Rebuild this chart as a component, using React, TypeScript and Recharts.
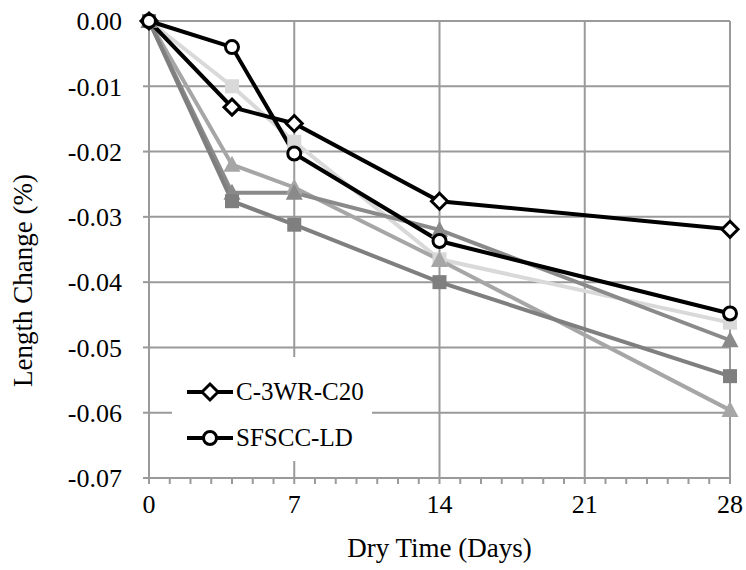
import { LineChart, Line, XAxis, YAxis, CartesianGrid, ReferenceLine, Legend } from 'recharts'

// dry time in days
const days = [0, 4, 7, 14, 28]

// length change (%) per mix
const c3wrC20 = [0, -0.0132, -0.0157, -0.0276, -0.0319]
const sfsccLd = [0, -0.004, -0.0203, -0.0337, -0.0448]
const lightSquare = [0, -0.01, -0.0185, -0.0365, -0.0462]
const lightTriangle = [0, -0.022, -0.0255, -0.0366, -0.0596]
const darkTriangle = [0, -0.0263, -0.0263, -0.032, -0.0489]
const darkSquare = [0, -0.0276, -0.0312, -0.04, -0.0544]

const yTicks = [0, -0.01, -0.02, -0.03, -0.04, -0.05, -0.06, -0.07]
const xTicks = [0, 1, 2, 3, 4, 5, 6, 7, 8, 9, 10, 11, 12, 13, 14, 15, 16, 17, 18, 19, 20, 21, 22, 23, 24, 25, 26, 27, 28]
const majorDays = [7, 14, 21, 28]

const data = days.map((d, i) => ({
  day: d,
  c3wr: c3wrC20[i],
  sfscc: sfsccLd[i],
  lsq: lightSquare[i],
  ltri: lightTriangle[i],
  dtri: darkTriangle[i],
  dsq: darkSquare[i],
}))

const FONT = '"Liberation Serif", "Times New Roman", serif'
const GRID = '#9a9a9a'

function marker(shape: string, cx: number, cy: number, color: string, key?: any) {
  if (shape === 'circle')
    return <circle key={key} cx={cx} cy={cy} r={6.5} fill="#fff" stroke={color} strokeWidth={3} />
  if (shape === 'diamond')
    return (
      <polygon
        key={key}
        points={`${cx},${cy - 8} ${cx + 8},${cy} ${cx},${cy + 8} ${cx - 8},${cy}`}
        fill="#fff"
        stroke={color}
        strokeWidth={3}
      />
    )
  if (shape === 'square')
    return <rect key={key} x={cx - 7} y={cy - 7} width={14} height={14} fill={color} />
  return (
    <polygon
      key={key}
      points={`${cx},${cy - 9} ${cx + 8.5},${cy + 7} ${cx - 8.5},${cy + 7}`}
      fill={color}
    />
  )
}

const dot = (shape: string, color: string) => (props: any) => {
  const { cx, cy, index } = props
  if (cx == null || cy == null) return <g key={index} />
  return marker(shape, cx, cy, color, index)
}

const XTick = (props: any) => {
  const { x, y, payload } = props
  if (payload.value % 7 !== 0) return <g />
  return (
    <text x={x} y={y} dy="0.71em" textAnchor="middle" fontSize={26} fontFamily={FONT} fill="#000">
      {payload.value}
    </text>
  )
}

const legendItems = [
  { name: 'C-3WR-C20', shape: 'diamond' },
  { name: 'SFSCC-LD', shape: 'circle' },
]

const LegendBox = () => (
  <div style={{ background: '#fff', paddingTop: 12 }}>
    {legendItems.map((it) => (
      <div key={it.name} style={{ display: 'flex', alignItems: 'center', height: 46 }}>
        <svg width={64} height={24}>
          <line x1={15} y1={12} x2={61} y2={12} stroke="#000" strokeWidth={4} />
          {marker(it.shape, 38, 12, '#000')}
        </svg>
        <span style={{ fontFamily: FONT, fontSize: 25, color: '#000', marginLeft: 0 }}>{it.name}</span>
      </div>
    ))}
  </div>
)

export default function App() {
  return (
    <div style={{ position: 'absolute', left: 0, top: 0, background: '#fff' }}>
      <LineChart width={746} height={570} data={data} margin={{ top: 21, right: 16, left: 0, bottom: 0 }}>
        <CartesianGrid horizontal vertical={false} stroke={GRID} strokeWidth={2} />
        {majorDays.map((d) => (
          <ReferenceLine key={d} x={d} stroke={GRID} strokeWidth={2} />
        ))}
        <XAxis
          dataKey="day"
          type="number"
          domain={[0, 28]}
          ticks={xTicks}
          interval={0}
          height={92}
          stroke={GRID}
          strokeWidth={2}
          tickSize={6}
          tickMargin={11}
          tick={<XTick />}
          label={{
            content: (p: any) => {
              const vb = p.viewBox
              return (
                <text x={vb.x + vb.width / 2} y={vb.y + 79} textAnchor="middle" fontSize={27} fontFamily={FONT} fill="#000">
                  Dry Time (Days)
                </text>
              )
            },
          }}
        />
        <YAxis
          type="number"
          domain={[-0.07, 0]}
          ticks={yTicks}
          interval={0}
          width={149}
          stroke={GRID}
          strokeWidth={2}
          tickSize={6}
          tickMargin={21}
          tickFormatter={(v: number) => v.toFixed(2)}
          tick={{ fontSize: 26, fontFamily: FONT, fill: '#000' }}
          label={{
            content: (p: any) => {
              const vb = p.viewBox
              const x = vb.x + 32
              const y = vb.y + vb.height / 2 + 31
              return (
                <text x={x} y={y} textAnchor="middle" fontSize={27} fontFamily={FONT} fill="#000" transform={`rotate(-90, ${x}, ${y})`}>
                  Length Change (%)
                </text>
              )
            },
          }}
        />
        <Line dataKey="lsq" stroke="#d9d9d9" strokeWidth={4} dot={dot('square', '#d9d9d9')} isAnimationActive={false} />
        <Line dataKey="ltri" stroke="#a6a6a6" strokeWidth={4} dot={dot('triangle', '#a6a6a6')} isAnimationActive={false} />
        <Line dataKey="dtri" stroke="#8a8a8a" strokeWidth={4} dot={dot('triangle', '#8a8a8a')} isAnimationActive={false} />
        <Line dataKey="dsq" stroke="#7f7f7f" strokeWidth={4} dot={dot('square', '#7f7f7f')} isAnimationActive={false} />
        <Line dataKey="c3wr" stroke="#000" strokeWidth={4} dot={dot('diamond', '#000')} isAnimationActive={false} />
        <Line dataKey="sfscc" stroke="#000" strokeWidth={4} dot={dot('circle', '#000')} isAnimationActive={false} />
        <Legend
          layout="vertical"
          align="center"
          verticalAlign="middle"
          wrapperStyle={{ left: 172, top: 357, width: 200, height: 95 }}
          content={() => <LegendBox />}
        />
      </LineChart>
    </div>
  )
}
